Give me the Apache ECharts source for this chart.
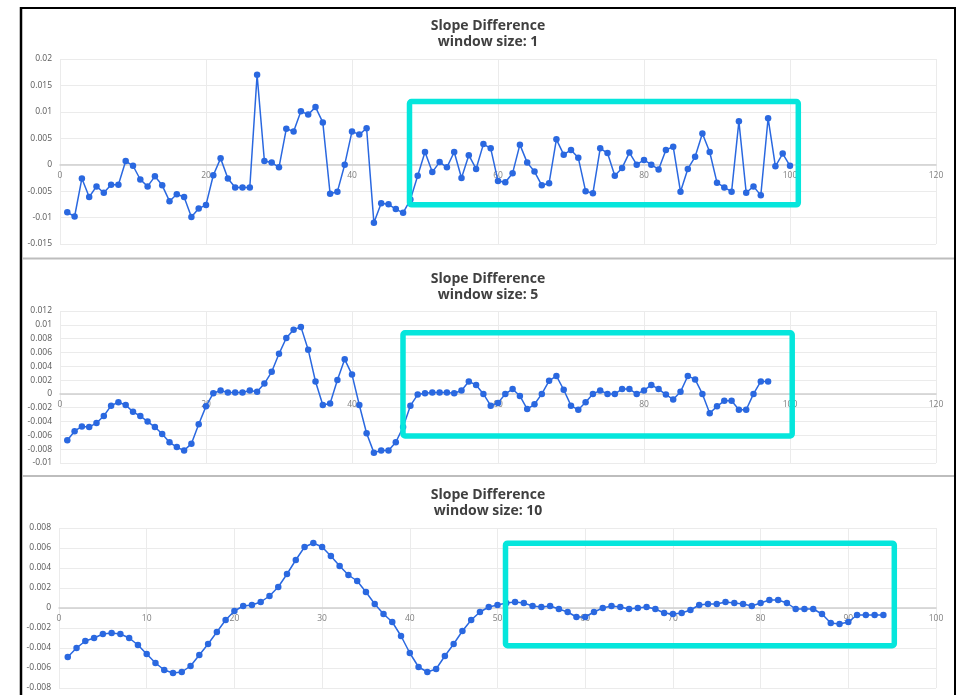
<!DOCTYPE html>
<html>
<head>
<meta charset="utf-8">
<script src="https://cdn.jsdelivr.net/npm/echarts@6/dist/echarts.min.js"></script>
<style>
html,body{margin:0;padding:0;background:#fff;}
#c{width:961px;height:695px;}
</style>
</head>
<body>
<div id="c"></div>
<script>
// ---- data ----
const titles = ['window size: 1', 'window size: 5', 'window size: 10'];
const mainTitle = 'Slope Difference';

const w1 = [-0.0090,-0.0098,-0.0026,-0.0061,-0.0041,-0.0053,-0.0038,-0.0038,0.0007,-0.0002,
-0.0028,-0.0041,-0.0022,-0.0039,-0.0069,-0.0056,-0.0061,-0.0099,-0.0083,-0.0076,
-0.0020,0.0012,-0.0026,-0.0043,-0.0043,-0.0043,0.0170,0.0007,0.0004,-0.0005,
0.0068,0.0063,0.0101,0.0095,0.0109,0.0080,-0.0055,-0.0051,0.0000,0.0063,
0.0057,0.0069,-0.0110,-0.0073,-0.0075,-0.0084,-0.0091,-0.0066,-0.0021,0.0024,
-0.0014,0.0005,-0.0005,0.0024,-0.0025,0.0018,-0.0008,0.0039,0.0031,-0.0031,
-0.0033,-0.0016,0.0038,0.0004,-0.0013,-0.0039,-0.0035,0.0048,0.0019,0.0028,
0.0013,-0.0050,-0.0054,0.0031,0.0022,-0.0021,-0.0006,0.0023,0.0000,0.0009,
0.0000,-0.0009,0.0028,0.0034,-0.0051,-0.0008,0.0015,0.0059,0.0024,-0.0034,
-0.0043,-0.0051,0.0082,-0.0053,-0.0041,-0.0058,0.0088,-0.0003,0.0021,-0.0002];

const w5 = [-0.0067,-0.0054,-0.0047,-0.0048,-0.0042,-0.0032,-0.0017,-0.0012,-0.0016,-0.0026,
-0.0032,-0.0040,-0.0048,-0.0058,-0.0070,-0.0077,-0.0082,-0.0072,-0.0044,-0.0018,
0.0001,0.0005,0.0002,0.0002,0.0002,0.0005,0.0003,0.0015,0.0032,0.0058,
0.0081,0.0093,0.0097,0.0064,0.0018,-0.0016,-0.0014,0.0020,0.0050,0.0028,
-0.0016,-0.0057,-0.0085,-0.0082,-0.0082,-0.0070,-0.0048,-0.0017,-0.0001,0.0001,
0.0002,0.0002,0.0002,0.0001,0.0005,0.0018,0.0013,0.0000,-0.0017,-0.0013,
0.0000,0.0007,-0.0003,-0.0022,-0.0015,0.0000,0.0019,0.0026,0.0006,-0.0017,
-0.0023,-0.0012,0.0000,0.0005,0.0000,0.0000,0.0007,0.0007,0.0000,0.0005,
0.0013,0.0007,-0.0001,-0.0008,0.0003,0.0026,0.0021,0.0000,-0.0028,-0.0018,
-0.0010,-0.0010,-0.0023,-0.0023,0.0000,0.0018,0.0018];

const w10 = [-0.0049,-0.0040,-0.0033,-0.0030,-0.0026,-0.0025,-0.0026,-0.0030,-0.0037,-0.0046,
-0.0055,-0.0062,-0.0065,-0.0064,-0.0058,-0.0047,-0.0036,-0.0024,-0.0012,-0.0003,
0.0002,0.0003,0.0006,0.0012,0.0021,0.0034,0.0048,0.0061,0.0065,0.0061,
0.0052,0.0042,0.0033,0.0027,0.0016,0.0004,-0.0006,-0.0014,-0.0028,-0.0045,
-0.0059,-0.0064,-0.0061,-0.0048,-0.0036,-0.0023,-0.0012,-0.0004,0.0001,0.0003,
0.0005,0.0006,0.0005,0.0002,0.0001,0.0002,-0.0001,-0.0004,-0.0009,-0.0009,
-0.0004,0.0000,0.0002,0.0001,-0.0001,0.0000,0.0001,-0.0001,-0.0005,-0.0006,
-0.0005,-0.0002,0.0003,0.0004,0.0004,0.0006,0.0005,0.0004,0.0002,0.0005,
0.0008,0.0008,0.0005,-0.0001,-0.0001,-0.0001,-0.0006,-0.0015,-0.0016,-0.0014,
-0.0007,-0.0007,-0.0007,-0.0007];

const xAxes = [{min:0,max:120,interval:20},{min:0,max:120,interval:20},{min:0,max:100,interval:10}];
const yAxes = [{min:-0.015,max:0.02,interval:0.005},{min:-0.01,max:0.012,interval:0.002},{min:-0.008,max:0.008,interval:0.002}];
const seriesData = [w1, w5, w10];

// ---- chart ----
const chart = echarts.init(document.getElementById('c'));
const FONT = '"Open Sans", "Noto Sans", sans-serif';
const grids = [
  {left:60, width:876, top:59, height:185},
  {left:60, width:876, top:311, height:152},
  {left:59, width:877, top:528, height:160}
];
const titleTops = [13, 266, 482];

function fmt(v){
  if (Math.abs(v) < 1e-12) return '0';
  return String(parseFloat(v.toFixed(4)));
}

const option = {
  animation: false,
  backgroundColor: '#fff',
  title: titles.map((t,i)=>({
    text: mainTitle,
    subtext: t,
    left: 483, top: titleTops[i], textAlign: 'center',
    itemGap: 0,
    textStyle: {fontFamily: FONT, fontSize: 14, fontWeight: 'bold', color: '#404040', lineHeight: 16},
    subtextStyle: {fontFamily: FONT, fontSize: 14, fontWeight: 'bold', color: '#404040', lineHeight: 16}
  })),
  grid: grids.map(g=>Object.assign({containLabel:false}, g)),
  xAxis: xAxes.map((a,i)=>{
    const ya = yAxes[i];
    // place the x axis at y = 0 (like the source chart)
    const zeroOffset = -grids[i].height * (0 - ya.min) / (ya.max - ya.min);
    return {
      type:'value', gridIndex:i, min:a.min, max:a.max, interval:a.interval,
      position:'bottom', offset: zeroOffset,
      axisLine:{show:true, onZero:false, lineStyle:{color:'#d0d0d0', width:1.5}},
      axisTick:{show:false},
      axisLabel:{fontFamily:FONT, fontSize:8.5, color:'#7f7f7f', margin:6},
      splitLine:{show:true, lineStyle:{color:'#ebebeb', width:1}}
    };
  }),
  yAxis: yAxes.map((a,i)=>({
    type:'value', gridIndex:i, min:a.min, max:a.max, interval:a.interval,
    axisLine:{show:false}, axisTick:{show:false},
    axisLabel:{fontFamily:FONT, fontSize:8.5, color:'#595959', margin:8, formatter:fmt},
    splitLine:{show:true, lineStyle:{color:'#ebebeb', width:1}}
  })),
  series: seriesData.map((d,i)=>({
    type:'line', xAxisIndex:i, yAxisIndex:i,
    data: d.map((v,k)=>[k+1, v]),
    symbol:'circle', symbolSize:6.5,
    lineStyle:{color:'#2a68e0', width:1.5},
    itemStyle:{color:'#2a68e0'},
    z: 3
  })),
  graphic: [
    // outer frame
    {type:'line', shape:{x1:21, y1:8, x2:955, y2:8}, style:{stroke:'#000', lineWidth:2}, z:100},
    {type:'line', shape:{x1:21, y1:7, x2:21, y2:695}, style:{stroke:'#000', lineWidth:2.5}, z:100},
    {type:'line', shape:{x1:955, y1:7, x2:955, y2:695}, style:{stroke:'#000', lineWidth:2}, z:100},
    // panel separators
    {type:'line', shape:{x1:22, y1:258.5, x2:954, y2:258.5}, style:{stroke:'#bdbdbd', lineWidth:2}, z:100},
    {type:'line', shape:{x1:22, y1:476, x2:954, y2:476}, style:{stroke:'#bdbdbd', lineWidth:2}, z:100},
    // highlight boxes
    {type:'rect', shape:{x:409.5, y:101.5, width:388.8, height:103.3, r:2}, style:{fill:'none', stroke:'#05E6DC', lineWidth:5.5}, z:100},
    {type:'rect', shape:{x:403, y:332.8, width:389.2, height:103.2, r:2}, style:{fill:'none', stroke:'#05E6DC', lineWidth:5.5}, z:100},
    {type:'rect', shape:{x:505.5, y:543.2, width:388.8, height:102.5, r:2}, style:{fill:'none', stroke:'#05E6DC', lineWidth:5.5}, z:100}
  ]
};
chart.setOption(option);
</script>
</body>
</html>
